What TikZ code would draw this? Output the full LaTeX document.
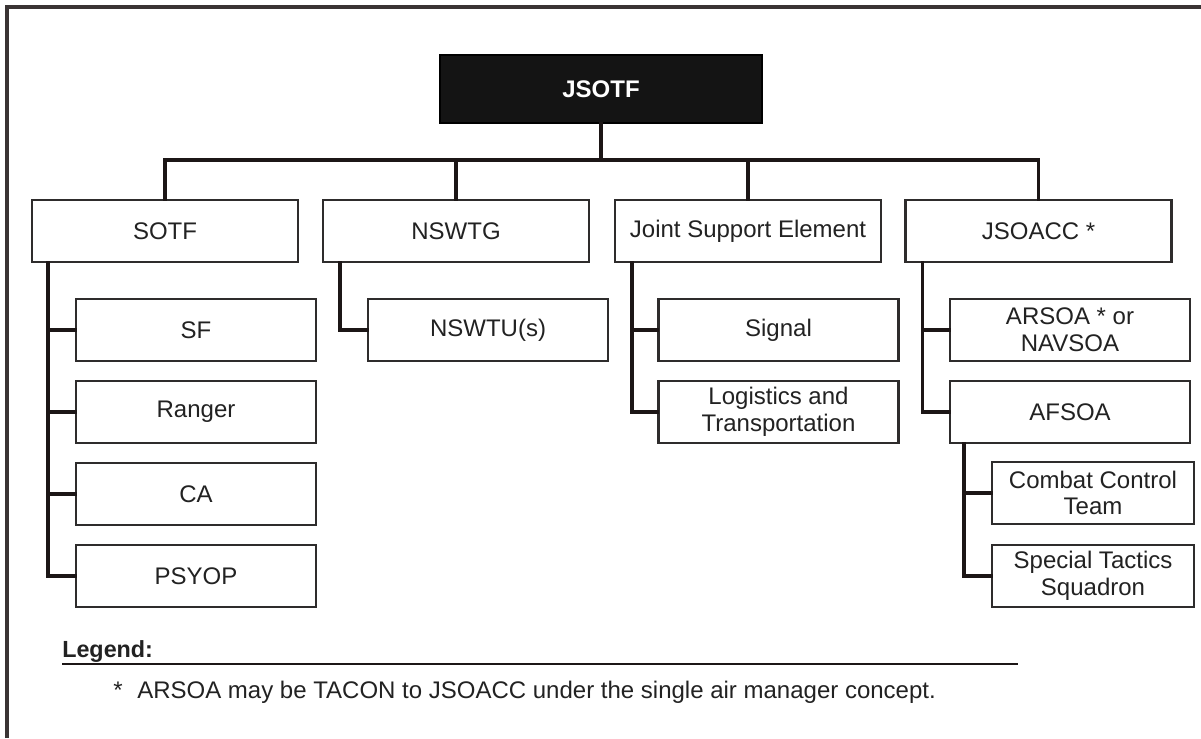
\documentclass[tikz,border=0pt]{standalone}
\usepackage{fontspec}
\setmainfont{Liberation Sans}
\definecolor{conncol}{HTML}{1C1616}
\definecolor{boxcol}{HTML}{2E2C2C}
\definecolor{txtcol}{HTML}{222222}
\definecolor{framecol}{HTML}{3A3434}
\begin{document}
\begin{tikzpicture}[x=0.75pt,y=-0.75pt,
  every node/.style={font=\fontsize{18}{20}\selectfont, text=txtcol, inner sep=0pt},
  orgbox/.style={draw=boxcol, line width=1.6pt, fill=white, align=center, minimum height=46.5pt},
  topbox/.style={orgbox, minimum width=199.5pt},
  subbox/.style={orgbox, minimum width=180pt},
  smallbox/.style={orgbox, minimum width=151.5pt},
  headbox/.style={draw=black, fill=black!92, line width=1pt, minimum width=241.5pt, minimum height=51pt, text=white, font=\fontsize{18}{20}\selectfont\bfseries},
  conn/.style={draw=conncol, line width=2.8pt, line cap=rect}]
\useasboundingbox (0,0) rectangle (1201,738);
\fill[white] (0,0) rectangle (1201,738);
% frame
\draw[framecol, line width=2.4pt] (7,738) -- (7,7) -- (1201,7);

% nodes
\node[headbox] (jsotf) at (601,89) {JSOTF};
\node[topbox] (sotf)  at (165,231) {SOTF};
\node[topbox] (nswtg) at (456,231) {NSWTG};
\node[topbox] (jse)   at (748,231) {Joint Support Element};
\node[topbox] (jsoacc) at (1038.5,231) {JSOACC *};

\node[subbox] (sf)     at (196,330) {SF};
\node[subbox] (ranger) at (196,412) {Ranger};
\node[subbox] (ca)     at (196,494) {CA};
\node[subbox] (psyop)  at (196,576) {PSYOP};

\node[subbox] (nswtu)  at (488,330) {NSWTU(s)};

\node[subbox] (signal) at (778.5,330) {Signal};
\node[subbox] (logi)   at (778.5,412) {Logistics and\\Transportation};

\node[subbox] (arsoa)  at (1070,330) {ARSOA * or\\NAVSOA};
\node[subbox] (afsoa)  at (1070,412) {AFSOA};

\node[smallbox] (cct)  at (1093,493) {Combat Control\\Team};
\node[smallbox] (sts)  at (1093,576) {Special Tactics\\Squadron};

% connectors
\coordinate (bus) at (601,160);
\draw[conn] (jsotf.south) -- (bus);
\draw[conn] (sotf.north) |- (bus) -| (jsoacc.north);
\draw[conn] (nswtg.north) -- (nswtg.north |- bus);
\draw[conn] (jse.north) -- (jse.north |- bus);

\draw[conn] ([xshift=12.75pt]sotf.south west) |- (psyop.west);
\draw[conn] ([xshift=12.75pt]sotf.south west |- sf.west) -- (sf.west);
\draw[conn] ([xshift=12.75pt]sotf.south west |- ranger.west) -- (ranger.west);
\draw[conn] ([xshift=12.75pt]sotf.south west |- ca.west) -- (ca.west);

\draw[conn] ([xshift=13.5pt]nswtg.south west) |- (nswtu.west);

\draw[conn] ([xshift=13.5pt]jse.south west) |- (logi.west);
\draw[conn] ([xshift=13.5pt]jse.south west |- signal.west) -- (signal.west);

\draw[conn] ([xshift=13.5pt]jsoacc.south west) |- (afsoa.west);
\draw[conn] ([xshift=13.5pt]jsoacc.south west |- arsoa.west) -- (arsoa.west);

\draw[conn] ([xshift=11.25pt]afsoa.south west) |- (sts.west);
\draw[conn] ([xshift=11.25pt]afsoa.south west |- cct.west) -- (cct.west);

% legend
\node[anchor=base west, font=\fontsize{17.5}{20}\selectfont\bfseries] (legend) at (62,657) {Legend:};
\coordinate (lineend) at (1018,664);
\draw[conncol, line width=1.5pt] (legend.south west |- lineend) -- (lineend);
\node[anchor=base west, font=\fontsize{18}{20}\selectfont] (ast) at (113,698) {*};
\node[anchor=base west, font=\fontsize{18}{20}\selectfont] (note) at (137,698) {ARSOA may be TACON to JSOACC under the single air manager concept.};
\end{tikzpicture}
\end{document}
